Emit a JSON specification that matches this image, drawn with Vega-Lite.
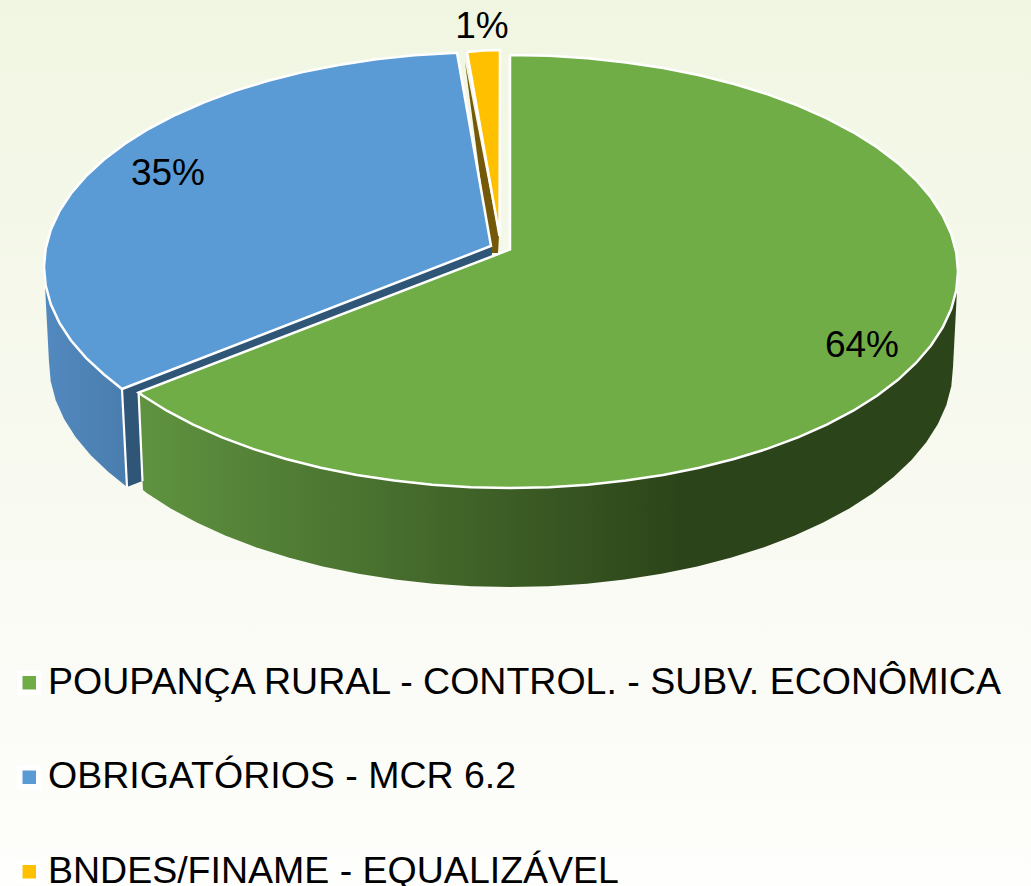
{
"$schema":"https://vega.github.io/schema/vega-lite/v6.json",
"width":1031,"height":886,"padding":0,"autosize":"none",
"config":{"view":{"stroke":null},"font":"Liberation Sans"},
"datasets":{
"slices":[
{"part":"green","category":"POUPANÇA RURAL - CONTROL. - SUBV. ECONÔMICA","share":64,"label":"64%","x":862,"y":346},
{"part":"blue","category":"OBRIGATÓRIOS - MCR 6.2","share":35,"label":"35%","x":168,"y":174},
{"part":"yellow","category":"BNDES/FINAME - EQUALIZÁVEL","share":1,"label":"1%","x":482,"y":27}
],
"outline":[
{"part":"brownWall","x":465,"y":62},{"part":"brownWall","x":499,"y":236},{"part":"brownWall","x":498,"y":253},{"part":"brownWall","x":490,"y":253},{"part":"brownWall","x":465,"y":62},
{"part":"blueWall","x":492,"y":245},{"part":"blueWall","x":122,"y":389},{"part":"blueWall","x":127,"y":487},{"part":"blueWall","x":492,"y":345},{"part":"blueWall","x":492,"y":245},
{"part":"blueSide","x":44,"y":267},{"part":"blueSide","x":49,"y":362},{"part":"blueSide","x":50.7,"y":381.2},{"part":"blueSide","x":55.7,"y":400.2},{"part":"blueSide","x":64.1,"y":418.9},{"part":"blueSide","x":75.7,"y":437.2},{"part":"blueSide","x":90.5,"y":455},{"part":"blueSide","x":108.4,"y":472},{"part":"blueSide","x":127,"y":487},{"part":"blueSide","x":122,"y":389},{"part":"blueSide","x":44,"y":267},
{"part":"greenSide","x":958,"y":271.5},{"part":"greenSide","x":953,"y":367},{"part":"greenSide","x":951.3,"y":386.2},{"part":"greenSide","x":946.3,"y":405.2},{"part":"greenSide","x":937.9,"y":423.9},{"part":"greenSide","x":926.3,"y":442.2},{"part":"greenSide","x":911.5,"y":460},{"part":"greenSide","x":893.6,"y":477},{"part":"greenSide","x":872.9,"y":493.2},{"part":"greenSide","x":849.3,"y":508.4},{"part":"greenSide","x":823.2,"y":522.6},{"part":"greenSide","x":794.8,"y":535.5},{"part":"greenSide","x":764.1,"y":547.2},{"part":"greenSide","x":731.5,"y":557.5},{"part":"greenSide","x":697.2,"y":566.4},{"part":"greenSide","x":661.5,"y":573.7},{"part":"greenSide","x":624.7,"y":579.5},{"part":"greenSide","x":586.9,"y":583.7},{"part":"greenSide","x":548.6,"y":586.2},{"part":"greenSide","x":510,"y":587},{"part":"greenSide","x":471.4,"y":586.2},{"part":"greenSide","x":433.1,"y":583.7},{"part":"greenSide","x":395.3,"y":579.5},{"part":"greenSide","x":358.5,"y":573.7},{"part":"greenSide","x":322.8,"y":566.4},{"part":"greenSide","x":288.5,"y":557.5},{"part":"greenSide","x":255.9,"y":547.2},{"part":"greenSide","x":225.2,"y":535.5},{"part":"greenSide","x":196.8,"y":522.6},{"part":"greenSide","x":170.7,"y":508.4},{"part":"greenSide","x":147.1,"y":493.2},{"part":"greenSide","x":143,"y":490},{"part":"greenSide","x":138.6,"y":392.6},{"part":"greenSide","x":958,"y":271.5},
{"part":"edgeBlue","x":122,"y":389},{"part":"edgeBlue","x":127,"y":487},
{"part":"edgeGreen","x":138.6,"y":392.6},{"part":"edgeGreen","x":142.5,"y":481},
{"part":"blue","x":122,"y":389},{"part":"blue","x":104,"y":374.5},{"part":"blue","x":86,"y":357.9},{"part":"blue","x":71,"y":340.5},{"part":"blue","x":59.3,"y":322.6},{"part":"blue","x":50.8,"y":304.3},{"part":"blue","x":45.7,"y":285.7},{"part":"blue","x":44,"y":267},{"part":"blue","x":45.7,"y":248.3},{"part":"blue","x":50.8,"y":229.7},{"part":"blue","x":59.3,"y":211.4},{"part":"blue","x":71,"y":193.5},{"part":"blue","x":86,"y":176.1},{"part":"blue","x":104,"y":159.5},{"part":"blue","x":125,"y":143.7},{"part":"blue","x":148.8,"y":128.8},{"part":"blue","x":175.2,"y":115},{"part":"blue","x":204,"y":102.3},{"part":"blue","x":235,"y":90.9},{"part":"blue","x":268,"y":80.8},{"part":"blue","x":302.7,"y":72.1},{"part":"blue","x":338.8,"y":65},{"part":"blue","x":376.1,"y":59.3},{"part":"blue","x":414.2,"y":55.3},{"part":"blue","x":457,"y":52.7},{"part":"blue","x":491,"y":246},{"part":"blue","x":122,"y":389},
{"part":"yellow","x":467,"y":52},{"part":"yellow","x":483.5,"y":50.5},{"part":"yellow","x":500,"y":50},{"part":"yellow","x":499.5,"y":236},{"part":"yellow","x":467,"y":52},
{"part":"green","x":510,"y":55},{"part":"green","x":549.1,"y":55.8},{"part":"green","x":587.8,"y":58.3},{"part":"green","x":625.9,"y":62.4},{"part":"green","x":663.2,"y":68.1},{"part":"green","x":699.3,"y":75.3},{"part":"green","x":734,"y":84},{"part":"green","x":767,"y":94.1},{"part":"green","x":798,"y":105.7},{"part":"green","x":826.8,"y":118.4},{"part":"green","x":853.2,"y":132.3},{"part":"green","x":877,"y":147.3},{"part":"green","x":898,"y":163.2},{"part":"green","x":916,"y":180},{"part":"green","x":931,"y":197.5},{"part":"green","x":942.7,"y":215.5},{"part":"green","x":951.2,"y":233.9},{"part":"green","x":956.3,"y":252.6},{"part":"green","x":958,"y":271.5},{"part":"green","x":956.3,"y":290.4},{"part":"green","x":951.2,"y":309.1},{"part":"green","x":942.7,"y":327.5},{"part":"green","x":931,"y":345.5},{"part":"green","x":916,"y":363},{"part":"green","x":898,"y":379.8},{"part":"green","x":877,"y":395.7},{"part":"green","x":853.2,"y":410.7},{"part":"green","x":826.8,"y":424.6},{"part":"green","x":798,"y":437.3},{"part":"green","x":767,"y":448.9},{"part":"green","x":734,"y":459},{"part":"green","x":699.3,"y":467.7},{"part":"green","x":663.2,"y":474.9},{"part":"green","x":625.9,"y":480.6},{"part":"green","x":587.8,"y":484.7},{"part":"green","x":549.1,"y":487.2},{"part":"green","x":510,"y":488},{"part":"green","x":470.9,"y":487.2},{"part":"green","x":432.2,"y":484.7},{"part":"green","x":394.1,"y":480.6},{"part":"green","x":356.8,"y":474.9},{"part":"green","x":320.7,"y":467.7},{"part":"green","x":286,"y":459},{"part":"green","x":253,"y":448.9},{"part":"green","x":222,"y":437.3},{"part":"green","x":193.2,"y":424.6},{"part":"green","x":166.8,"y":410.7},{"part":"green","x":143,"y":395.7},{"part":"green","x":138.6,"y":392.6},{"part":"green","x":510,"y":249.5},{"part":"green","x":510,"y":55}
]},
"layer":[
{"data":{"values":[{"panel":"background"}]},
 "mark":{"type":"rect","fill":{"gradient":"linear","x1":0,"y1":0,"x2":0,"y2":1,"stops":[{"offset":0,"color":"#f1f6e2"},{"offset":0.7,"color":"#fafbf5"},{"offset":1,"color":"#fefefc"}]}},
 "encoding":{}},
{"data":{"name":"outline"},"transform":[{"filter":"datum.part==='brownWall'"},{"window":[{"op":"row_number","as":"vertex"}]}],
 "mark":{"type":"line","fill":"#745a08","strokeWidth":0},
 "encoding":{"x":{"field":"x","type":"quantitative","axis":null,"scale":{"domain":[0,1031],"nice":false,"zero":false}},"y":{"field":"y","type":"quantitative","axis":null,"scale":{"domain":[886,0],"nice":false,"zero":false}},"order":{"field":"vertex","type":"quantitative"}}},
{"data":{"name":"outline"},"transform":[{"filter":"datum.part==='blueWall'"},{"window":[{"op":"row_number","as":"vertex"}]}],
 "mark":{"type":"line","fill":"#2f5577","strokeWidth":0},
 "encoding":{"x":{"field":"x","type":"quantitative"},"y":{"field":"y","type":"quantitative"},"order":{"field":"vertex","type":"quantitative"}}},
{"data":{"name":"outline"},"transform":[{"filter":"datum.part==='blueSide'"},{"window":[{"op":"row_number","as":"vertex"}]}],
 "mark":{"type":"line","strokeWidth":0,"fill":{"gradient":"linear","x1":0,"y1":0,"x2":1,"y2":0,"stops":[{"offset":0,"color":"#5289bf"},{"offset":1,"color":"#4a7dae"}]}},
 "encoding":{"x":{"field":"x","type":"quantitative"},"y":{"field":"y","type":"quantitative"},"order":{"field":"vertex","type":"quantitative"}}},
{"data":{"name":"outline"},"transform":[{"filter":"datum.part==='greenSide'"},{"window":[{"op":"row_number","as":"vertex"}]}],
 "mark":{"type":"line","strokeWidth":0,"fill":{"gradient":"linear","x1":0,"y1":0,"x2":1,"y2":0,"stops":[{"offset":0,"color":"#5f9340"},{"offset":0.66,"color":"#2c4419"},{"offset":1,"color":"#2c4419"}]}},
 "encoding":{"x":{"field":"x","type":"quantitative"},"y":{"field":"y","type":"quantitative"},"order":{"field":"vertex","type":"quantitative"}}},
{"data":{"name":"outline"},"transform":[{"filter":"datum.part==='edgeBlue'||datum.part==='edgeGreen'"}],
 "mark":{"type":"line","stroke":"#ffffff","strokeWidth":2.2},
 "encoding":{"x":{"field":"x","type":"quantitative"},"y":{"field":"y","type":"quantitative"},"detail":{"field":"part"}}},
{"data":{"name":"outline"},"transform":[{"filter":"datum.part==='blue'||datum.part==='yellow'||datum.part==='green'"},{"lookup":"part","from":{"data":{"name":"slices"},"key":"part","fields":["category"]}},{"window":[{"op":"row_number","as":"vertex"}]}],
 "mark":{"type":"line","stroke":"#ffffff","strokeWidth":2.5,"strokeJoin":"miter"},
 "encoding":{"x":{"field":"x","type":"quantitative"},"y":{"field":"y","type":"quantitative"},"order":{"field":"vertex","type":"quantitative"},
  "fill":{"field":"category","type":"nominal","scale":{"domain":["POUPANÇA RURAL - CONTROL. - SUBV. ECONÔMICA","OBRIGATÓRIOS - MCR 6.2","BNDES/FINAME - EQUALIZÁVEL"],"range":["#70ad47","#5b9bd5","#ffc000"]},
   "legend":{"orient":"none","legendX":10.5,"legendY":664,"title":null,"symbolType":"square","symbolSize":361,"symbolStrokeColor":"#ffffff","symbolStrokeWidth":5.5,"labelFont":"Liberation Sans","labelFontSize":37.5,"labelColor":"#000000","labelLimit":1100,"labelOffset":0,"rowPadding":52.5,"padding":0}}}},
{"data":{"name":"slices"},
 "mark":{"type":"text","font":"Liberation Sans","fontSize":37,"color":"#000000","align":"center","baseline":"middle"},
 "encoding":{"x":{"field":"x","type":"quantitative"},"y":{"field":"y","type":"quantitative"},"text":{"field":"label"}}}
]
}
